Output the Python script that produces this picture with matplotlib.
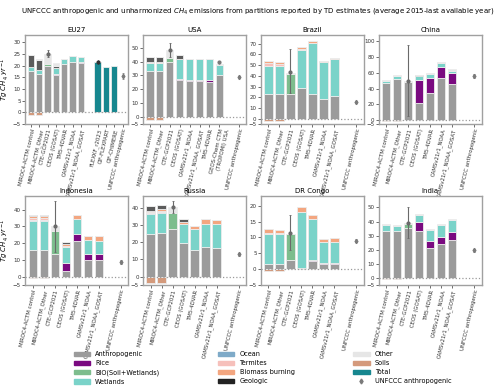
import matplotlib
matplotlib.use("Agg")
import matplotlib.pyplot as plt
from matplotlib.patches import Patch
from matplotlib.lines import Line2D

# colours
C_ANTH = "#9b9b9b"
C_RICE = "#7a0a80"
C_BIO = "#7dbd8d"
C_WET = "#7ad3c9"
C_OCEAN = "#7eaac8"
C_TERM = "#f6c0bb"
C_BB = "#f3a680"
C_GEO = "#5c5c5c"
C_OTHER = "#e6e6e6"
C_SOIL = "#d49a7c"
C_TOTAL = "#17878f"
C_UNF = "#7a7a7a"
COMPONENTS = ["anth", "rice", "bio", "wet", "ocean", "term", "bb", "geo", "other"]
COLORS = dict(anth=C_ANTH, rice=C_RICE, bio=C_BIO, wet=C_WET, ocean=C_OCEAN,
              term=C_TERM, bb=C_BB, geo=C_GEO, other=C_OTHER)

MODELS = ["MIROC4-ACTM control", "MIROC4-ACTM_Other", "CTE-GCP2021", "CEOS (GOSAT)",
          "TM5-4DVAR", "CAMSv21r1_NOAA", "CAMSv21r1_NOAA_GOSAT"]
USA_MODELS = ["MIROC4-ACTM control", "MIROC4-ACTM_Other", "CTE-GCP2021", "CEOS (GOSAT)",
              "CAMSv21r1_NOAA", "CAMSv21r1_NOAA_GOSAT", "TM5-4DVAR",
              "GEOS-Chem CTM\n(TROPOMI) USA"]
EU_TOTAL_MODELS = ["FLEXKF_r2023", "CIF-FLEXPART", "CIF-CHIMERE"]

# per-region partition values (Tg CH4/yr), one entry per inversion
eu27 = dict(anth=[17.5, 16.5, 20, 16, 20.5, 21.3, 21], rice=[0, 0, 0, 0.3, 0.3, 0.3, 0.4],
            bio=[0, 0, 0.5, 0, 0, 0, 0], wet=[2, 1.5, 0, 2.7, 2.2, 2.4, 2.1],
            other=[0, 0.5, 4.5, 1, 0, 0, 0], geo=[5, 4.5, 0, 1, 0, 0, 0],
            soil=[-1.2, -1.2, 0, 0, 0, 0, 0])
eu27_total = [21.5, 19.5, 20]
usa = dict(anth=[33.5, 33.5, 39.5, 27, 26, 26, 25.5, 30.5], rice=[0, 0, 0, 0.5, 0.7, 0.7, 1, 0],
           bio=[0, 0, 3, 0, 0, 0, 0, 0], wet=[5.5, 5.5, 0, 14.5, 14.8, 14.8, 15, 7],
           term=[1, 1, 0, 0, 0, 0, 0, 0], bb=[0, 0, 0, 0, 0.5, 0.5, 0.5, 0],
           other=[0.5, 0.5, 5.5, 0.5, 0, 0, 0, 0.5], geo=[3, 3, 0, 2.5, 0, 0, 0, 0],
           soil=[-2, -2, 0, 0, 0, 0, 0, 0])
brazil = dict(anth=[23.5, 23.5, 23.5, 29, 23, 18, 21], rice=[0, 0, 0, 0, 0, 0.5, 0],
              bio=[0, 0, 18, 0, 0, 0, 0], wet=[26, 25.5, 0, 35.5, 47.5, 34, 34.5],
              term=[2.5, 2.5, 0, 0.7, 0, 0, 0], bb=[1.5, 1.5, 0, 1.3, 2, 1.5, 1.5],
              other=[0, 0, 1.5, 0, 0, 0, 0], soil=[-2.5, -2.5, 0, 0, 0, 0, 0])
china = dict(anth=[47, 52.5, 48, 21.5, 35, 54, 45.5], rice=[0, 0, 0, 30, 18.5, 14, 14],
             bio=[0, 0, 1, 0, 0, 0, 0], wet=[3, 3, 0, 5, 5.5, 4, 3.5],
             other=[1.5, 1.5, 1, 0, 1, 1.5, 1.5], geo=[0, 0, 0, 1, 0, 0, 0],
             soil=[-1.5, -1.5, 0, 0, 0, 0, 0])
indonesia = dict(anth=[16, 16, 13.5, 3.5, 21.5, 10, 10], rice=[0, 0, 0, 4.5, 4, 3.5, 3.5],
                 bio=[0, 0, 14, 0, 0, 0, 0], wet=[17, 17, 0, 9.5, 9, 8.5, 8],
                 ocean=[1, 1, 0, 0, 0, 0, 0], term=[1, 1, 0, 0.5, 0, 0, 0],
                 bb=[1, 1, 0, 1.5, 2.5, 2.5, 2.5], other=[0, 0, 2.5, 0, 0, 0, 0],
                 geo=[1, 0.5, 0, 1, 0, 0, 0], soil=[-0.5, -0.5, 0, 0, 0, 0, 0])
russia = dict(anth=[25, 25.5, 28, 19.5, 15.5, 17, 16.5], rice=[0, 0, 0, 0, 0.3, 0, 0],
              bio=[0, 0, 9, 0, 0, 0, 0], wet=[11.5, 11.5, 0, 11, 12.2, 13.5, 14],
              ocean=[0.5, 0.5, 0, 0, 0, 0, 0], term=[0.5, 1, 0, 0, 0, 0, 0],
              bb=[1, 1, 0, 1.5, 1.5, 3, 2.5], other=[0.5, 0, 3.5, 0, 0, 0, 0],
              geo=[2.5, 2.5, 0, 1.5, 0, 0, 0], soil=[-3.5, -3.5, 0, 0, 0, 0, 0])
drcongo = dict(anth=[1.5, 1.5, 3, 0.3, 2.5, 1.7, 1.7], rice=[0, 0, 0, 0.2, 0.3, 0.3, 0.3],
               bio=[0, 0, 8, 0, 0, 0, 0], wet=[9.5, 9.5, 0, 17.5, 13, 6.5, 6.7],
               term=[0.5, 0.3, 0, 0, 0, 0, 0], bb=[1, 1, 0, 1.5, 1.2, 1, 1],
               soil=[-0.7, -0.7, 0, 0, 0, 0, 0])
india = dict(anth=[33.5, 33, 35.5, 33, 21, 24, 27], rice=[0, 0, 0, 6.5, 5.5, 5, 5.5],
             bio=[0, 0, 3, 0, 0, 0, 0], wet=[4, 3.8, 0, 5, 7.5, 8.5, 8.5],
             other=[0.5, 0.7, 0.5, 0.5, 0.5, 0.5, 0.5], soil=[-1, -1, 0, 0, 0, 0, 0])

# CTE-GCP2021 ensemble spread: (mean, low, high)
cte_range = {"EU27": (25, 23.5, 26.5), "USA": (48, 43, 53), "Brazil": (44, 24, 65),
             "China": (50, 5, 96), "Indonesia": (30, 15, 45), "Russia": (40.5, 37, 44),
             "DR Congo": (11.5, 6, 17), "India": (39, 28, 50)}
# UNFCCC anthropogenic (value, error)
unfccc = {"EU27": (15.5, 1.2), "USA": (29, 0.8), "Brazil": (15.5, 1.2), "China": (56, 2),
          "Indonesia": (9, 1.2), "Russia": (13, 0.8), "DR Congo": (9, 0.5), "India": (19.5, 1)}

panels = [("EU27", eu27, (-5, 33), [-5, 0, 5, 10, 15, 20, 25, 30]),
          ("USA", usa, (-5, 59), [-5, 0, 10, 20, 30, 40, 50]),
          ("Brazil", brazil, (-5, 78), [-5, 0, 10, 20, 30, 40, 50, 60, 70]),
          ("China", china, (-5, 108), [-5, 0, 20, 40, 60, 80, 100]),
          ("Indonesia", indonesia, (-5, 48), [-5, 0, 10, 20, 30, 40]),
          ("Russia", russia, (-5, 47), [-5, 0, 10, 20, 30, 40]),
          ("DR Congo", drcongo, (-5, 23), [-5, 0, 5, 10, 15, 20]),
          ("India", india, (-5, 58), [-5, 0, 10, 20, 30, 40, 50])]

plt.rcParams["font.family"] = "DejaVu Sans"
fig, axes = plt.subplots(2, 4, figsize=(5, 3.9), dpi=100)
fig.subplots_adjust(left=0.05, right=0.964, top=0.91, bottom=0.269, wspace=0.14, hspace=0.81)
W = 0.75
EDGE = dict(edgecolor="#ececec", linewidth=0.6)

for ax, (name, data, ylim, yticks) in zip(axes.flat, panels):
    n = len(data["anth"])
    labels = USA_MODELS if name == "USA" else MODELS
    x = list(range(n))
    bottom = [0.0] * n
    for comp in COMPONENTS:
        vals = data.get(comp)
        if vals is None:
            continue
        ax.bar(x, vals, W, bottom=bottom, color=COLORS[comp], zorder=2, **EDGE)
        bottom = [b + v for b, v in zip(bottom, vals)]
    ax.bar(x, data["soil"], W, color=C_SOIL, zorder=2, **EDGE)

    ticks = list(x)
    ticklabels = list(labels)
    if name == "EU27":
        xt = [n + 1 + i for i in range(len(eu27_total))]
        ax.bar(xt, eu27_total, W, color=C_TOTAL, zorder=2, **EDGE)
        ax.errorbar(xt[0], eu27_total[0], yerr=1.0, fmt="o", color="#333333",
                    ms=2, elinewidth=0.8, capsize=0, zorder=4)
        ticks += xt
        ticklabels += EU_TOTAL_MODELS
        xu = xt[-1] + 1
    else:
        xu = n + 1
    if name == "USA":
        ax.errorbar(n - 1, 39.5, yerr=1.0, fmt="o", color=C_UNF, ms=2,
                    elinewidth=0.8, capsize=0, zorder=4)

    m, lo, hi = cte_range[name]
    ax.errorbar(2, m, yerr=[[m - lo], [hi - m]], fmt="o", color="#6a6a6a", ms=2,
                elinewidth=0.8, capsize=1, capthick=0.6, zorder=4)
    u, ue = unfccc[name]
    ax.errorbar(xu, u, yerr=ue, fmt="d", color=C_UNF, ms=2.2, elinewidth=0.6,
                capsize=0.8, capthick=0.5, zorder=4)
    ticks.append(xu)
    ticklabels.append("UNFCCC anthropogenic")

    ax.axhline(0, color="#9a9a9a", ls=":", lw=0.9, zorder=3)
    ax.set_xlim(-0.7, xu + 0.7)
    ax.set_ylim(*ylim)
    ax.set_yticks(yticks)
    ax.set_xticks(ticks)
    ax.set_xticklabels(ticklabels, rotation=77, ha="right", rotation_mode="anchor", fontsize=3.9)
    ax.tick_params(axis="y", labelsize=4, length=2, width=0.5, pad=1, colors="#333333")
    ax.tick_params(axis="x", length=2, width=0.5, pad=1, colors="#333333")
    for sp in ax.spines.values():
        sp.set_color("#a0a0a0")
        sp.set_linewidth(1.0)
    ax.set_title(name, fontsize=5, pad=2)

for ax in (axes[0, 0], axes[1, 0]):
    ax.set_ylabel(r"$Tg\ CH_4\ yr^{-1}$", fontsize=5, labelpad=1)

fig.suptitle(r"UNFCCC anthropogenic and unharmonized $CH_4$ emissions from partitions "
             r"reported by TD estimates (average 2015-last available year)",
             fontsize=5.0, x=0.515, y=0.985)

handles = [Patch(color=C_ANTH, label="Anthropogenic"), Patch(color=C_RICE, label="Rice"),
           Patch(color=C_BIO, label="BIO(Soil+Wetlands)"), Patch(color=C_WET, label="Wetlands"),
           Patch(color=C_OCEAN, label="Ocean"), Patch(color=C_TERM, label="Termites"),
           Patch(color=C_BB, label="Biomass burning"), Patch(color="#222222", label="Geologic"),
           Patch(color=C_OTHER, label="Other"), Patch(color=C_SOIL, label="Soils"),
           Patch(color=C_TOTAL, label="Total"),
           Line2D([], [], marker="d", color=C_UNF, ls="none", ms=2.5, label="UNFCCC anthropogenic")]
fig.legend(handles=handles, loc="lower center", bbox_to_anchor=(0.525, 0.0), ncol=3,
           frameon=False, fontsize=4.7, columnspacing=9, handlelength=2.5,
           handleheight=0.7, labelspacing=0.45, borderaxespad=0.4)

fig.savefig("out.png", dpi=100)
